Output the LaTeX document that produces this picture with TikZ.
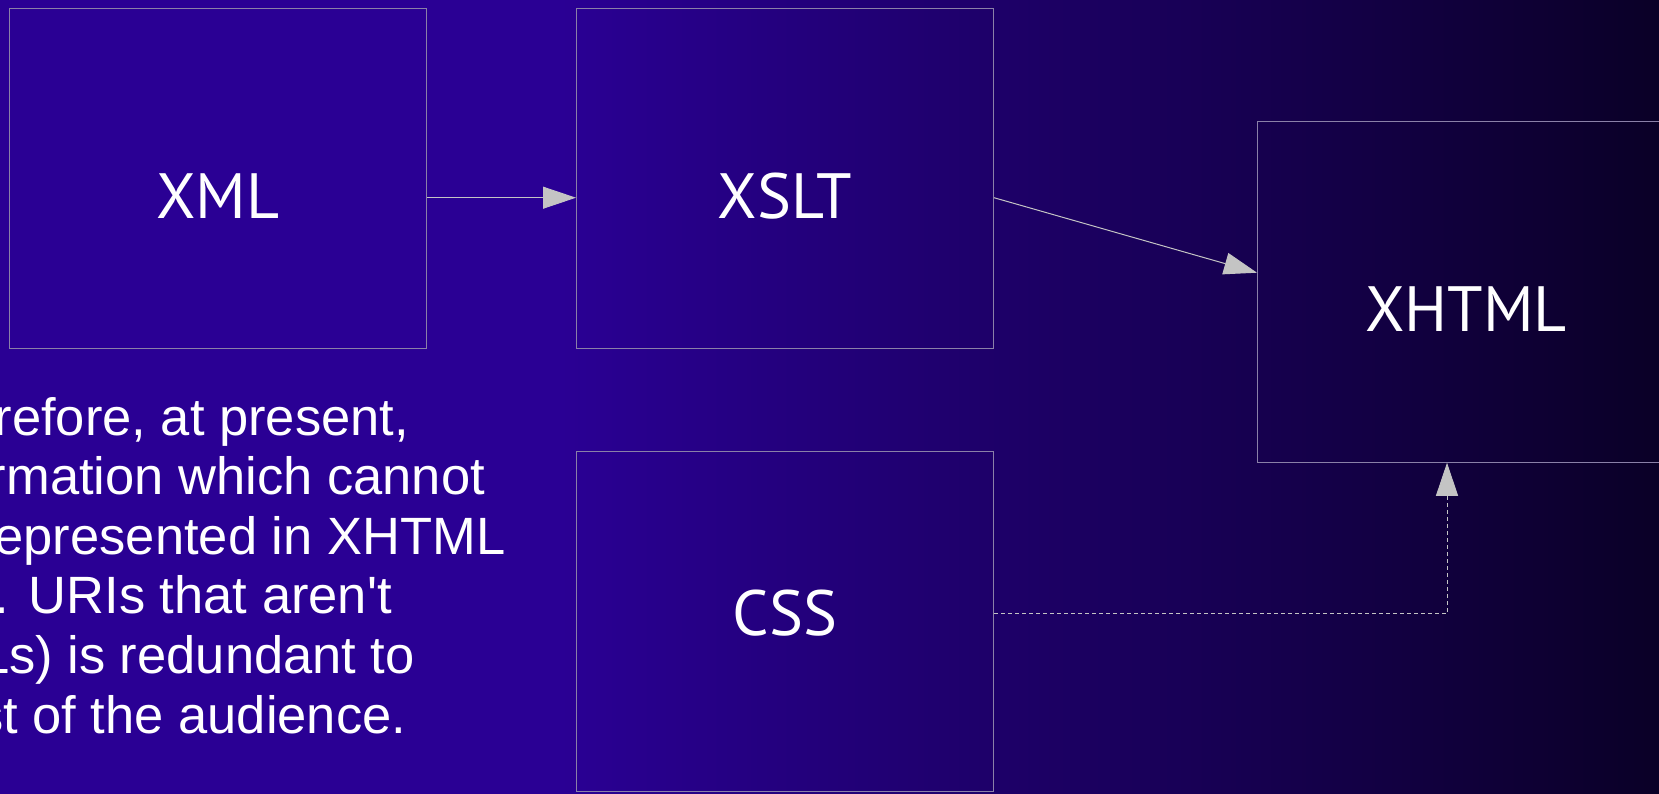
\documentclass[tikz,border=0pt]{standalone}
\usepackage{fontspec}
\setmainfont{Liberation Sans}
\newfontfamily\boxfont{PT Sans}
\usetikzlibrary{arrows.meta,positioning,calc}
\definecolor{deepblue}{HTML}{2A0094}
\definecolor{nightblue}{HTML}{0A0026}
\definecolor{frame}{HTML}{8A80A8}
\definecolor{wire}{HTML}{C4C4C4}
\tikzset{
  >={Triangle[length=33pt,width=22pt]},
  box/.style={draw=frame,line width=1pt,minimum width=417pt,minimum height=340.5pt,inner sep=0pt},
  boxlabel/.style={text=white,font=\boxfont\fontsize{64}{66}\selectfont,inner sep=0pt},
  arrow/.style={->,draw=wire,line width=1pt},
  dasharr/.style={arrow,dash pattern=on 4pt off 3pt},
  note/.style={text=white,font=\fontsize{52.5}{59.6}\selectfont,align=left,inner sep=0pt}
}
\begin{document}
\begin{tikzpicture}[x=1pt,y=-1pt]
  \useasboundingbox (0,0) rectangle (1659,793);
  \clip (0,0) rectangle (1659,793);
  % background
  \fill[deepblue] (-10,-10) rectangle (565,803);
  \shade[left color=deepblue,right color=nightblue] (560,-10) rectangle (1669,803);

  \node[box,label={[boxlabel,yshift=-17pt]center:XML}] (xml) at (218,178.7) {};
  \node[box,label={[boxlabel,yshift=-17pt]center:XSLT}] (xslt) at (785,178.7) {};
  \node[box,label={[boxlabel,yshift=8pt]center:CSS}] (css) at (785,621.5) {};
  \node[box,label={[boxlabel,yshift=-17pt]center:XHTML}] (xhtml) at (1466,292) {};

  % base anchor sits on the last line
  \node[note,anchor=base west] (remark) at (-96,733)
    {Therefore, at present,\\information which cannot\\be represented in XHTML\\(e.g. URIs that aren\textquotesingle t\\URLs) is redundant to\\most of the audience.};

  \draw[arrow] ([yshift=-19pt]xml.east) -- ([yshift=-19pt]xslt.west);
  \draw[arrow] ([yshift=-19pt]xslt.east) -- ([yshift=19.3pt]xhtml.west);
  \draw[dasharr] ([yshift=8pt]css.east) -| ([xshift=-19pt]xhtml.south);
\end{tikzpicture}
\end{document}
